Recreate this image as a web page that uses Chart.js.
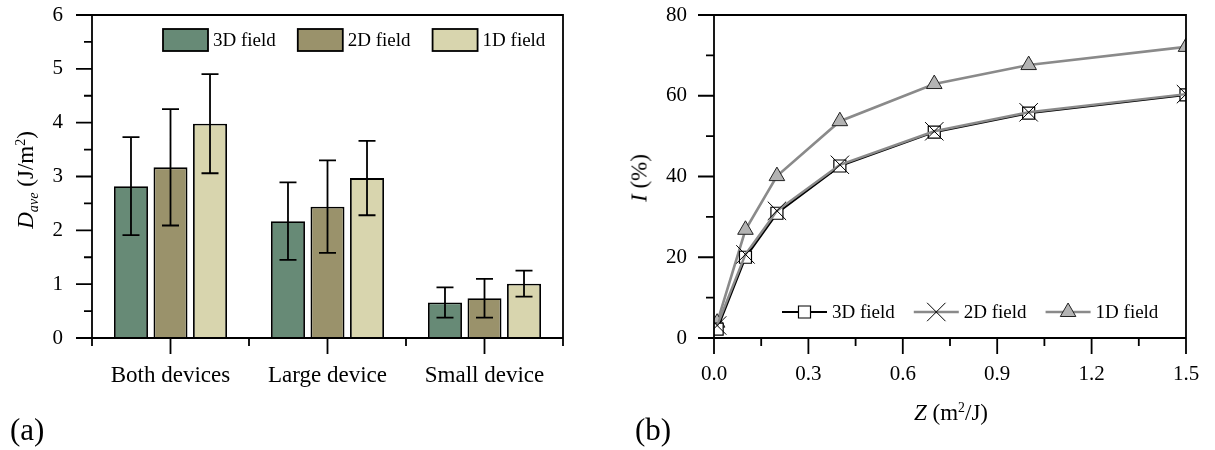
<!DOCTYPE html>
<html>
<head>
<meta charset="utf-8">
<script src="https://cdn.jsdelivr.net/npm/chart.js@4.4.1/dist/chart.umd.min.js"></script>
<style>
  html, body { margin: 0; padding: 0; background: #fff; }
  #wrap { position: relative; width: 1215px; height: 450px; overflow: hidden;
          font-family: "Liberation Serif", "Times New Roman", serif; color: #000; }
  #wrap canvas { position: absolute; top: 0; }
  .lbl { position: absolute; white-space: nowrap; line-height: 1; }
  .rot { transform: translate(-50%, -50%) rotate(-90deg); }
  .ctr { transform: translate(-50%, -50%); }
  .sub { font-size: 0.62em; position: relative; top: 0.32em; }
  .sup { font-size: 0.6em; position: relative; top: -0.6em; }
</style>
</head>
<body>
<div id="wrap">
  <canvas id="chartA" width="600" height="450" style="left:0"></canvas>
  <canvas id="chartB" width="615" height="450" style="left:600px"></canvas>

  <div class="lbl rot" style="left:25px; top:180px; font-size:23px;"><i>D</i><span class="sub"><i>ave</i></span> (J/m<span class="sup">2</span>)</div>
  <div class="lbl" style="left:10px; top:414px; font-size:31px;">(a)</div>

  <div class="lbl rot" style="left:639px; top:178px; font-size:23px;"><i>I</i> (%)</div>
  <div class="lbl ctr" style="left:951px; top:412px; font-size:23px;"><i>Z</i> (m<span class="sup">2</span>/J)</div>
  <div class="lbl" style="left:635px; top:414px; font-size:31px;">(b)</div>
</div>

<script>
// ---- (a) average dose per device group ----
const categories = ['Both devices', 'Large device', 'Small device'];
const fieldNames = ['3D field', '2D field', '1D field'];
const dave3D = [2.82, 2.17, 0.66];
const dave2D = [3.17, 2.44, 0.74];
const dave1D = [3.98, 2.97, 1.01];
const sd3D = [0.91, 0.72, 0.28];
const sd2D = [1.08, 0.86, 0.36];
const sd1D = [0.92, 0.69, 0.24];
const daveTicks = [0, 1, 2, 3, 4, 5, 6];

// ---- (b) inactivation versus Z ----
const zValues = [0.01, 0.1, 0.2, 0.4, 0.7, 1.0, 1.5];
const i3D = [2.2, 20.0, 30.9, 42.6, 51.0, 55.7, 60.2];
const i2D = [3.1, 20.7, 31.5, 42.9, 51.2, 55.9, 60.4];
const i1D = [3.8, 26.8, 40.1, 53.7, 62.9, 67.6, 72.1];
const zTicks = [0, 0.3, 0.6, 0.9, 1.2, 1.5];
const iTicks = [0, 20, 40, 60, 80];

const FONT = '"Liberation Serif", "Times New Roman", serif';
const AXIS_LW = 1.8;
const MAJOR_LEN = 16;
const MINOR_LEN = 8;

function midpoints(vals) {
  const out = [];
  for (let i = 0; i < vals.length - 1; i++) out.push((vals[i] + vals[i + 1]) / 2);
  return out;
}

// Box frame with outward major/minor tick marks
function framePlugin(xMajor, xMinor) {
  return {
    id: 'frame',
    afterDraw(chart) {
      const { ctx, chartArea: a, scales: { x, y } } = chart;
      ctx.save();
      ctx.strokeStyle = '#000';
      ctx.lineWidth = AXIS_LW;
      ctx.lineCap = 'butt';
      ctx.beginPath();
      ctx.rect(a.left, a.top, a.right - a.left, a.bottom - a.top);
      const seg = (x1, y1, x2, y2) => { ctx.moveTo(x1, y1); ctx.lineTo(x2, y2); };
      const yVals = y.ticks.map(t => t.value);
      yVals.forEach(v => { const p = y.getPixelForValue(v); seg(a.left - MAJOR_LEN, p, a.left, p); });
      midpoints(yVals).forEach(v => { const p = y.getPixelForValue(v); seg(a.left - MINOR_LEN, p, a.left, p); });
      xMajor(x).forEach(p => seg(p, a.bottom, p, a.bottom + MAJOR_LEN));
      xMinor(x).forEach(p => seg(p, a.bottom, p, a.bottom + MINOR_LEN));
      ctx.stroke();
      ctx.restore();
    }
  };
}

function drawMarker(ctx, style, r, bw, cx, cy) {
  if (Chart.helpers && Chart.helpers.drawPoint) {
    Chart.helpers.drawPoint(ctx, { pointStyle: style, radius: r, rotation: 0, borderWidth: bw }, cx, cy);
    return;
  }
  ctx.beginPath();
  if (style === 'rect') {
    const s = Math.SQRT1_2 * r;
    ctx.rect(cx - s, cy - s, 2 * s, 2 * s);
    ctx.fill(); ctx.stroke();
  } else if (style === 'triangle') {
    ctx.moveTo(cx, cy - r);
    ctx.lineTo(cx + r * Math.sqrt(3) / 2, cy + r / 2);
    ctx.lineTo(cx - r * Math.sqrt(3) / 2, cy + r / 2);
    ctx.closePath();
    ctx.fill(); ctx.stroke();
  } else {
    const o = Math.SQRT1_2 * r;
    ctx.moveTo(cx - o, cy - o); ctx.lineTo(cx + o, cy + o);
    ctx.moveTo(cx - o, cy + o); ctx.lineTo(cx + o, cy - o);
    ctx.stroke();
  }
}

// Error bars (mean ± SD) on top of each bar
const errorBars = {
  id: 'errorBars',
  afterDatasetsDraw(chart) {
    const { ctx, scales: { y } } = chart;
    ctx.save();
    ctx.strokeStyle = '#000';
    ctx.lineWidth = AXIS_LW;
    ctx.beginPath();
    chart.data.datasets.forEach((ds, di) => {
      const meta = chart.getDatasetMeta(di);
      meta.data.forEach((bar, i) => {
        const v = ds.data[i], e = ds.errors[i];
        const yt = y.getPixelForValue(v + e), yb = y.getPixelForValue(v - e);
        const cap = 8.5;
        ctx.moveTo(bar.x, yt); ctx.lineTo(bar.x, yb);
        ctx.moveTo(bar.x - cap, yt); ctx.lineTo(bar.x + cap, yt);
        ctx.moveTo(bar.x - cap, yb); ctx.lineTo(bar.x + cap, yb);
      });
    });
    ctx.stroke();
    ctx.restore();
  }
};

// Legend of filled boxes across the top of the plot
const boxLegend = {
  id: 'boxLegend',
  afterDraw(chart) {
    const { ctx, chartArea: a } = chart;
    ctx.save();
    ctx.font = '19px ' + FONT;
    ctx.textBaseline = 'middle';
    ctx.textAlign = 'left';
    let x = a.left + 71;
    const cy = 40;
    chart.data.datasets.forEach(ds => {
      ctx.fillStyle = ds.backgroundColor;
      ctx.fillRect(x, cy - 11, 45, 22);
      ctx.strokeStyle = '#000';
      ctx.lineWidth = AXIS_LW;
      ctx.strokeRect(x, cy - 11, 45, 22);
      ctx.fillStyle = '#000';
      ctx.fillText(ds.label, x + 50, cy + 1);
      x += 50 + ctx.measureText(ds.label).width + 22;
    });
    ctx.restore();
  }
};

// Legend of line + marker samples near the bottom of the plot
const lineLegend = {
  id: 'lineLegend',
  afterDraw(chart) {
    const { ctx, chartArea: a } = chart;
    ctx.save();
    ctx.font = '19px ' + FONT;
    ctx.textBaseline = 'middle';
    ctx.textAlign = 'left';
    let x = a.left + 68;
    const cy = 312;
    chart.data.datasets.forEach(ds => {
      ctx.strokeStyle = ds.borderColor;
      ctx.lineWidth = ds.borderWidth;
      ctx.beginPath();
      ctx.moveTo(x, cy); ctx.lineTo(x + 45, cy);
      ctx.stroke();
      ctx.fillStyle = ds.pointBackgroundColor;
      ctx.strokeStyle = ds.pointBorderColor;
      ctx.lineWidth = ds.pointBorderWidth;
      drawMarker(ctx, ds.pointStyle, ds.pointRadius, ds.pointBorderWidth, x + 22.5, cy);
      ctx.fillStyle = '#000';
      ctx.fillText(ds.label, x + 50, cy + 1);
      x += 50 + ctx.measureText(ds.label).width + 19;
    });
    ctx.restore();
  }
};

const tickFont = { family: FONT, size: 21 };

// keep the plot box fixed: fixed axis thickness, no extra label padding
function fixY(width) {
  return s => { s.width = width; s.paddingTop = 0; s.paddingBottom = 0; };
}
function fixX(height) {
  return s => { s.height = height; s.paddingLeft = 0; s.paddingRight = 0; };
}

// ---------------- Chart (a) ----------------
new Chart(document.getElementById('chartA'), {
  type: 'bar',
  data: {
    labels: categories,
    datasets: [
      { label: fieldNames[0], data: dave3D, errors: sd3D, backgroundColor: '#678a76' },
      { label: fieldNames[1], data: dave2D, errors: sd2D, backgroundColor: '#9a926b' },
      { label: fieldNames[2], data: dave1D, errors: sd1D, backgroundColor: '#d8d5ae' }
    ].map(d => Object.assign(d, {
      borderColor: '#000', borderWidth: AXIS_LW,
      categoryPercentage: 0.755, barPercentage: 0.86
    }))
  },
  options: {
    responsive: false,
    animation: false,
    devicePixelRatio: 1,
    layout: { padding: { top: 15, right: 37, left: 0, bottom: 0 } },
    plugins: { legend: { display: false }, tooltip: { enabled: false } },
    scales: {
      x: {
        grid: { display: false, drawTicks: false },
        border: { display: false },
        ticks: { font: { family: FONT, size: 23 }, color: '#000', padding: 24, maxRotation: 0 },
        afterFit: fixX(112)
      },
      y: {
        min: 0, max: 6,
        grid: { display: false, drawTicks: false },
        border: { display: false },
        ticks: { font: tickFont, color: '#000', padding: 29 },
        afterBuildTicks(s) { s.ticks = daveTicks.map(v => ({ value: v })); },
        afterFit: fixY(92)
      }
    }
  },
  plugins: [
    errorBars,
    boxLegend,
    framePlugin(
      x => categories.map((c, i) => x.getPixelForValue(i)),
      x => [-0.5, 0.5, 1.5, 2.5].map(v => x.getPixelForValue(v))
    )
  ]
});

// ---------------- Chart (b) ----------------
const toXY = ys => zValues.map((z, i) => ({ x: z, y: ys[i] }));

new Chart(document.getElementById('chartB'), {
  type: 'line',
  data: {
    datasets: [
      { label: fieldNames[0], data: toXY(i3D), order: 1,
        borderColor: '#000', borderWidth: 2.2,
        pointStyle: 'rect', pointRadius: 8.5, pointBackgroundColor: '#fff',
        pointBorderColor: '#000', pointBorderWidth: 1.2 },
      { label: fieldNames[1], data: toXY(i2D), order: 0,
        borderColor: '#8a8a8a', borderWidth: 2.4,
        pointStyle: 'crossRot', pointRadius: 13, pointBackgroundColor: '#000',
        pointBorderColor: '#000', pointBorderWidth: 1 },
      { label: fieldNames[2], data: toXY(i1D), order: 2,
        borderColor: '#8a8a8a', borderWidth: 2.6,
        pointStyle: 'triangle', pointRadius: 9, pointBackgroundColor: '#b3b3b3',
        pointBorderColor: '#222', pointBorderWidth: 1 }
    ].map(d => Object.assign(d, { tension: 0, fill: false, pointHoverRadius: d.pointRadius }))
  },
  options: {
    responsive: false,
    animation: false,
    devicePixelRatio: 1,
    layout: { padding: { top: 15, right: 29, left: 0, bottom: 0 } },
    plugins: { legend: { display: false }, tooltip: { enabled: false } },
    scales: {
      x: {
        type: 'linear', min: 0, max: 1.5,
        grid: { display: false, drawTicks: false },
        border: { display: false },
        ticks: { font: tickFont, color: '#000', padding: 24, maxRotation: 0,
                 callback: v => Number(v).toFixed(1) },
        afterBuildTicks(s) { s.ticks = zTicks.map(v => ({ value: v })); },
        afterFit: fixX(112)
      },
      y: {
        min: 0, max: 80,
        grid: { display: false, drawTicks: false },
        border: { display: false },
        ticks: { font: tickFont, color: '#000', padding: 27 },
        afterBuildTicks(s) { s.ticks = iTicks.map(v => ({ value: v })); },
        afterFit: fixY(114)
      }
    }
  },
  plugins: [
    lineLegend,
    framePlugin(
      x => zTicks.map(v => x.getPixelForValue(v)),
      x => midpoints(zTicks).map(v => x.getPixelForValue(v))
    )
  ]
});
</script>
</body>
</html>
